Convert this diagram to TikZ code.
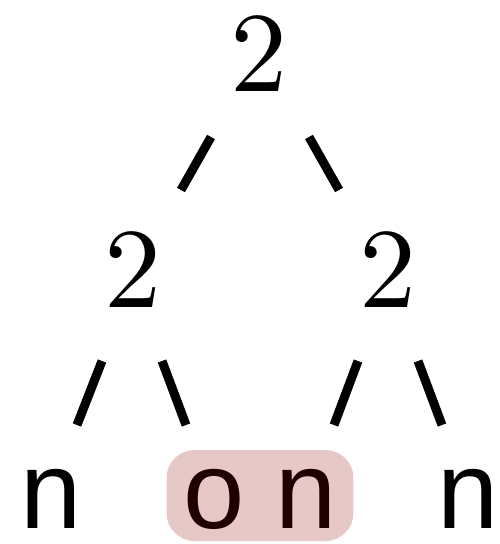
\documentclass[tikz,border=0pt]{standalone}
\usepackage{fontspec}
\newfontfamily\leaffont{Liberation Sans}
\newfontfamily\digitfont{lmroman10-regular}[Extension=.otf]
\usetikzlibrary{positioning}
\definecolor{hlpink}{RGB}{230,201,198}
\definecolor{hltext}{RGB}{30,0,0}

\begin{document}
\begin{tikzpicture}[x=1pt,y=-1pt,
  digit/.style={inner sep=0pt,anchor=base,font=\fontsize{114}{114}\selectfont\digitfont},
  leaf/.style={inner sep=0pt,anchor=base,font=\fontsize{110}{110}\selectfont\leaffont},
  branch/.style={line width=9pt}]
  \useasboundingbox (0,0) rectangle (499,544);
  % ---- top: root ----
  \node[digit] (root) at (259,91) {2};
  \coordinate (rl1) at (211,137); \coordinate (rl2) at (181,190);
  \coordinate (rr1) at (309,137); \coordinate (rr2) at (339,190);
  \draw[branch] (rl1) -- (rl2);
  \draw[branch] (rr1) -- (rr2);
  % ---- middle: two subtrees ----
  \node[digit] (left) at (132.5,307) {2};
  \node[digit] (right) at (387.5,307) {2};
  \coordinate (ll1) at (102,361); \coordinate (ll2) at (77,425);
  \coordinate (lr1) at (162,361); \coordinate (lr2) at (186,425);
  \coordinate (ml1) at (358,361); \coordinate (ml2) at (334,425);
  \coordinate (mr1) at (418,361); \coordinate (mr2) at (442,425);
  \foreach \a/\b in {ll1/ll2,lr1/lr2,ml1/ml2,mr1/mr2}
    \draw[branch] (\a) -- (\b);
  % ---- bottom: leaves, middle pair marked ----
  \node[leaf] (n1) at (51,528) {n};
  \node[leaf,fill=hlpink,text=hltext,rounded corners=28pt,inner xsep=17pt,
        text height=78pt,text depth=13pt] (pair) at (260,528) {o n};
  \node[leaf] (n4) at (468,528) {n};
\end{tikzpicture}
\end{document}
